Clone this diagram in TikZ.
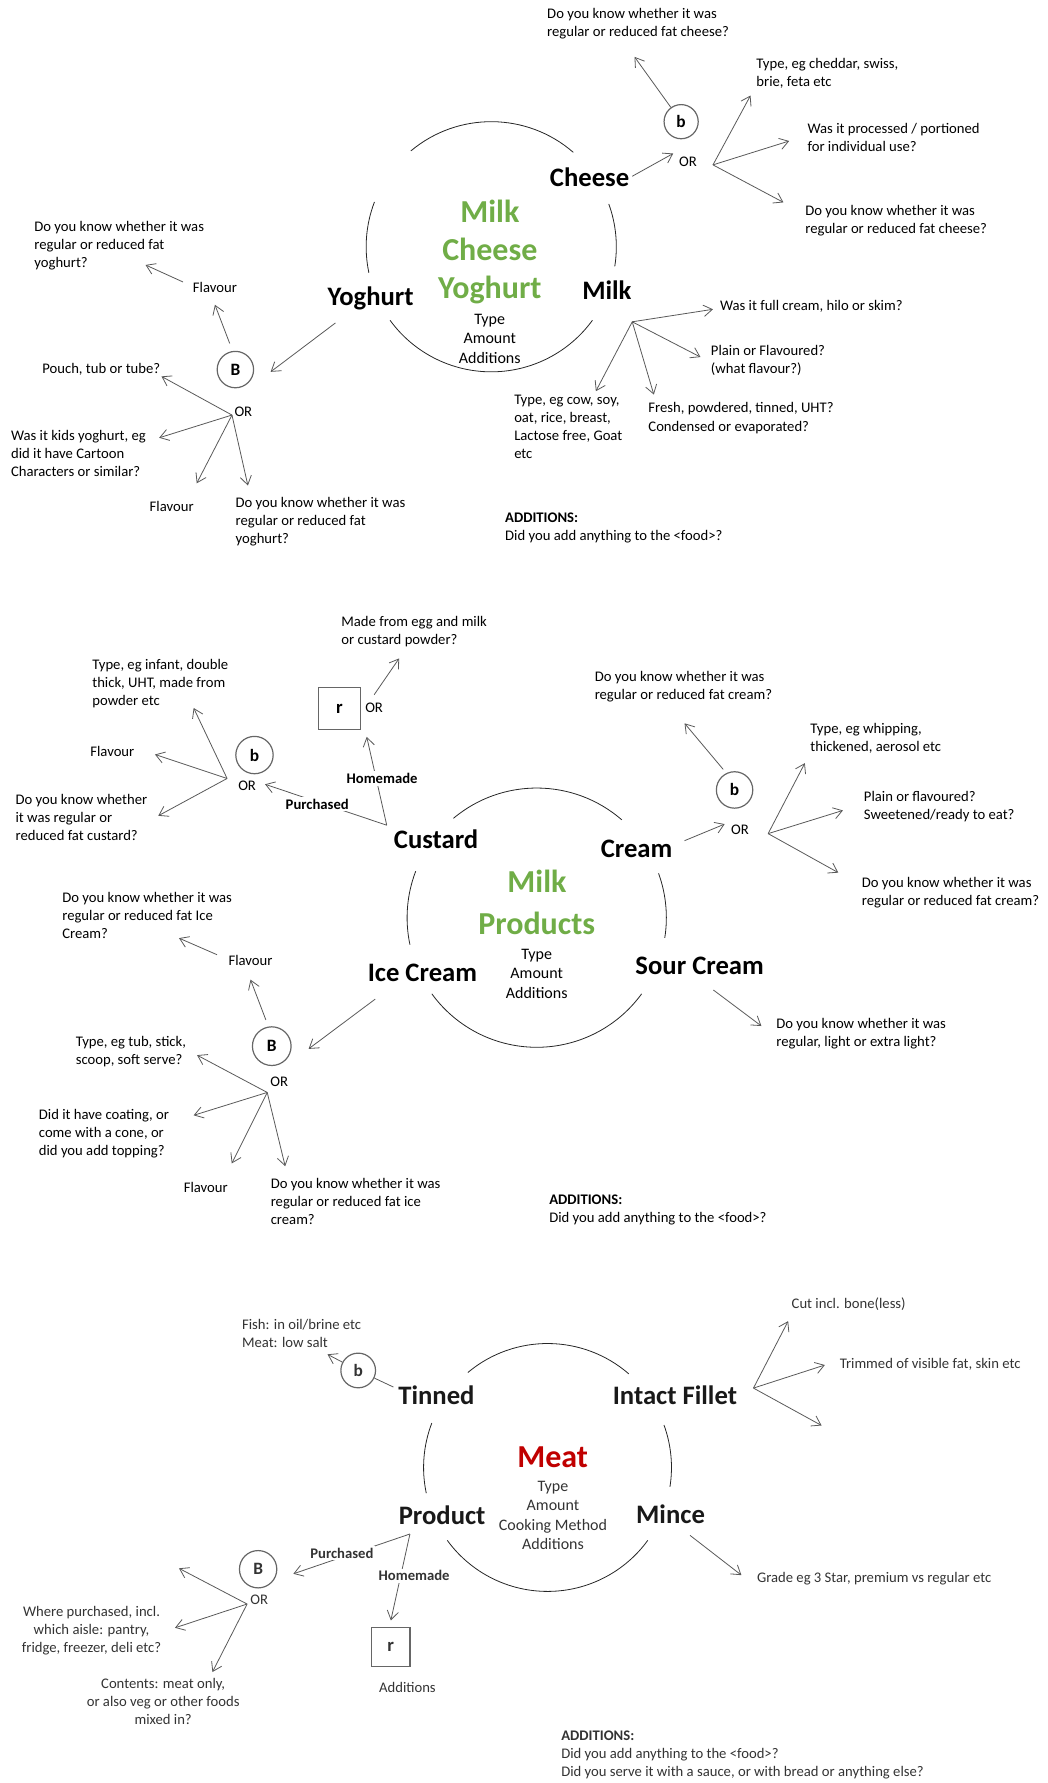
\documentclass[tikz,border=0pt]{standalone}
\usepackage{fontspec}
\setmainfont{Carlito}
\usetikzlibrary{arrows.meta}
\definecolor{hubgreen}{RGB}{112,173,71}
\definecolor{hubred}{RGB}{192,0,0}

\tikzset{
  q/.style={font=\fontsize{11}{13.5}\selectfont, align=left, anchor=north west, inner sep=0pt},
  qc/.style={font=\fontsize{11}{13.5}\selectfont, align=center, inner sep=0pt},
  cat/.style={font=\bfseries\fontsize{20}{24}\selectfont, inner sep=0pt},
  hub/.style={font=\bfseries\fontsize{24}{28.6}\selectfont, inner sep=0pt},
  facets/.style={font=\fontsize{12}{14.6}\selectfont, align=center, inner sep=0pt},
  route/.style={font=\bfseries\fontsize{11}{13}\selectfont, fill=white, inner sep=1.5pt},
  ortext/.style={font=\fontsize{11}{13}\selectfont, inner sep=0pt},
  badge/.style={circle, draw=black!60, line width=0.9pt, inner sep=0pt, minimum size=#1,
    font=\bfseries\fontsize{13}{15}\selectfont},
  recipe/.style={rectangle, draw=black!60, line width=0.9pt, inner sep=0pt, minimum size=#1,
    font=\bfseries\fontsize{14}{16}\selectfont},
  arr/.style={draw=black!65, line width=0.6pt, -{Straight Barb[length=6.5pt,width=8.5pt]}},
  link/.style={draw=black!65, line width=0.6pt},
  ring/.style={draw=black!85, line width=0.6pt},
}

% four arcs of a ring, leaving gaps for the category labels
\newcommand\ringarcs[2]{%
  \draw[ring] (#1) ++(-49:#2)  arc[start angle=-49,  end angle=-130, radius=#2];
  \draw[ring] (#1) ++(-159:#2) arc[start angle=-159, end angle=-192, radius=#2];
  \draw[ring] (#1) ++(-216:#2) arc[start angle=-216, end angle=-324, radius=#2];
  \draw[ring] (#1) ++(9:#2)    arc[start angle=9,    end angle=-20,  radius=#2];
}

\begin{document}
\begin{tikzpicture}[x=0.8526pt, y=-0.8526pt]
\useasboundingbox (0,0) rectangle (921,1568);

% ================= Milk / Cheese / Yoghurt =================
\coordinate (r1) at (432,217);
\ringarcs{r1}{110}
\node[hub, text=hubgreen] (s1milk) at (430.8,185.8) {Milk};
\node[hub, text=hubgreen] (s1cheese) at (430.8,219.5) {Cheese};
\node[hub, text=hubgreen] (s1yog) at (430.8,255) {Yoghurt};
\node[facets] (s1facets) at (430.7,298) {Type\\Amount\\Additions};

\node[cat] (cheese) at (518.5,156) {Cheese};
\node[cat] (yoghurt) at (325.9,262.8) {Yoghurt};
\node[cat] (milk) at (533.7,255) {Milk};

\node[badge=25.6pt] (s1b) at (599,107) {b};
\node[ortext] (s1bor) at (605,142) {OR};
\node[badge=27.3pt] (s1B) at (207,325) {B};
\node[ortext] (s1Bor) at (214,362) {OR};

\node[q] (t1) at (481,7) {Do you know whether it was\\regular or reduced fat cheese?};
\node[q] (t2) at (665,51) {Type, eg cheddar, swiss,\\brie, feta etc};
\node[q] (t3) at (710,108) {Was it processed / portioned\\for individual use?};
\node[q] (t4) at (708,180) {Do you know whether it was\\regular or reduced fat cheese?};
\node[q] (t5) at (30,194) {Do you know whether it was\\regular or reduced fat\\yoghurt?};
\node[qc] (t6) at (189,253) {Flavour};
\node[q] (t7) at (37,319) {Pouch, tub or tube?};
\node[q] (t8) at (9.5,378) {Was it kids yoghurt, eg\\did it have Cartoon\\Characters or similar?};
\node[qc] (t9) at (151,445) {Flavour};
\node[q] (t10) at (207,437) {Do you know whether it was\\regular or reduced fat\\yoghurt?};
\node[q] (t11) at (633,264) {Was it full cream, hilo or skim?};
\node[q] (t12) at (625,303) {Plain or Flavoured?\\(what flavour?)};
\node[q] (t13) at (570,354) {Fresh, powdered, tinned, UHT?\\Condensed or evaporated?};
\node[q] (t14) at (452,347) {Type, eg cow, soy,\\oat, rice, breast,\\Lactose free, Goat\\etc};
\node[q] (t15) at (444,451) {\textbf{ADDITIONS:}\\Did you add anything to the <food>?};

% cheese branch
\coordinate (cheeseout) at (556,155);
\coordinate (cheesetip) at (592,135);
\draw[arr] (cheeseout) -- (cheesetip);
\coordinate (s1bq) at (558,50);
\draw[arr] (s1b) -- (s1bq);
\coordinate (f1) at (627,145);
\coordinate (f1a) at (660,84);
\coordinate (f1b) at (694,124);
\coordinate (f1c) at (689,178);
\draw[arr] (f1) -- (f1a);
\draw[arr] (f1) -- (f1b);
\draw[arr] (f1) -- (f1c);
% yoghurt branch
\coordinate (yogout) at (295,284);
\coordinate (yogtip) at (238,327);
\draw[arr] (yogout) -- (yogtip);
\coordinate (s1Bup) at (202,302);
\coordinate (s1Bflav) at (189,268);
\draw[arr] (s1Bup) -- (s1Bflav);
\coordinate (t6out) at (161,248);
\coordinate (t6tip) at (128,233);
\draw[arr] (t6out) -- (t6tip);
\coordinate (f2) at (204,365);
\coordinate (f2a) at (142,331);
\coordinate (f2b) at (140,385);
\coordinate (f2c) at (173,425);
\coordinate (f2d) at (218,427);
\draw[arr] (f2) -- (f2a);
\draw[arr] (f2) -- (f2b);
\draw[arr] (f2) -- (f2c);
\draw[arr] (f2) -- (f2d);
% milk branch
\coordinate (f3) at (556,283);
\coordinate (f3a) at (627,272);
\coordinate (f3b) at (616,314);
\coordinate (f3c) at (575,347);
\coordinate (f3d) at (524,344);
\draw[arr] (f3) -- (f3a);
\draw[arr] (f3) -- (f3b);
\draw[arr] (f3) -- (f3c);
\draw[arr] (f3) -- (f3d);

% ================= Milk Products =================
\coordinate (r2) at (472,807);
\ringarcs{r2}{114}
\node[hub, text=hubgreen] (s2milk) at (472.2,774.9) {Milk};
\node[hub, text=hubgreen] (s2prod) at (472,811.7) {Products};
\node[facets] (s2facets) at (472,856.3) {Type\\Amount\\Additions};

\node[cat] (custard) at (383.5,737.7) {Custard};
\node[cat] (cream) at (559.8,746.6) {Cream};
\node[cat] (icecream) at (371.5,855.8) {Ice Cream};
\node[cat] (sourcream) at (615.3,849.6) {Sour Cream};

\node[recipe=31pt] (s2r) at (298.6,623) {r};
\node[ortext] (s2ror) at (329,622) {OR};
\node[badge=28pt] (s2b) at (223.8,664) {b};
\node[ortext] (s2bor) at (217.3,690.8) {OR};
\node[badge=27.3pt] (s2c) at (646,694.7) {b};
\node[ortext] (s2cor) at (650.8,729.5) {OR};
\node[badge=29pt] (s2B) at (239,920) {B};
\node[ortext] (s2Bor) at (245.5,951) {OR};

\node[q] (u1) at (300,542) {Made from egg and milk\\or custard powder?};
\node[q] (u2) at (81,580) {Type, eg infant, double\\thick, UHT, made from\\powder etc};
\node[qc] (u3) at (98.8,661) {Flavour};
\node[q] (u4) at (13.5,698.7) {Do you know whether\\it was regular or\\reduced fat custard?};
\node[q] (u5) at (522.8,590.4) {Do you know whether it was\\regular or reduced fat cream?};
\node[q] (u6) at (712.5,636) {Type, eg whipping,\\thickened, aerosol etc};
\node[q] (u7) at (759.5,695.8) {Plain or flavoured?\\Sweetened/ready to eat?};
\node[q] (u8) at (757.7,771) {Do you know whether it was\\regular or reduced fat cream?};
\node[q] (u9) at (682.5,895) {Do you know whether it was\\regular, light or extra light?};
\node[q] (u10) at (54.6,784.4) {Do you know whether it was\\regular or reduced fat Ice\\Cream?};
\node[qc] (u11) at (220.3,844.4) {Flavour};
\node[q] (u12) at (66.4,911) {Type, eg tub, stick,\\scoop, soft serve?};
\node[q] (u13) at (34,975) {Did it have coating, or\\come with a cone, or\\did you add topping?};
\node[qc] (u14) at (181,1044) {Flavour};
\node[q] (u15) at (237.9,1036) {Do you know whether it was\\regular or reduced fat ice\\cream?};
\node[q] (u16) at (482.8,1050.6) {\textbf{ADDITIONS:}\\Did you add anything to the <food>?};

% custard branches
\coordinate (custout) at (340.1,725.7);
\coordinate (custhome) at (322.5,648);
\coordinate (custbuy) at (233.1,689.7);
\draw[arr] (custout) -- (custhome);
\draw[arr] (custout) -- (custbuy);
\node[route] (s2home) at (336,684.6) {Homemade};
\node[route] (s2buy) at (279,707.2) {Purchased};
\coordinate (s2rout) at (329,611);
\coordinate (s2rtip) at (351,579);
\draw[arr] (s2rout) -- (s2rtip);
\coordinate (f4) at (199.7,684.6);
\coordinate (f4a) at (170.3,622.6);
\coordinate (f4b) at (136.3,663.5);
\coordinate (f4c) at (139.2,717.4);
\draw[arr] (f4) -- (f4a);
\draw[arr] (f4) -- (f4b);
\draw[arr] (f4) -- (f4c);
% cream branches
\coordinate (creamout) at (602,739.3);
\coordinate (creamtip) at (637.3,724.7);
\draw[arr] (creamout) -- (creamtip);
\coordinate (s2cup) at (636,676.6);
\coordinate (s2ctip) at (602,636.1);
\draw[arr] (s2cup) -- (s2ctip);
\coordinate (f5) at (675.5,733.1);
\coordinate (f5a) at (707.8,671.1);
\coordinate (f5b) at (741.3,712.7);
\coordinate (f5c) at (737.2,767.4);
\draw[arr] (f5) -- (f5a);
\draw[arr] (f5) -- (f5b);
\draw[arr] (f5) -- (f5c);
% sour cream branch
\coordinate (sourout) at (627.3,870.6);
\coordinate (sourtip) at (669.6,902.3);
\draw[arr] (sourout) -- (sourtip);
% ice cream branches
\coordinate (iceout) at (330,878.6);
\coordinate (icetip) at (271.4,922.4);
\draw[arr] (iceout) -- (icetip);
\coordinate (s2Bup) at (233.8,896.9);
\coordinate (s2Bflav) at (220.3,861.5);
\draw[arr] (s2Bup) -- (s2Bflav);
\coordinate (u11out) at (190.9,839.6);
\coordinate (u11tip) at (157.4,825);
\draw[arr] (u11out) -- (u11tip);
\coordinate (f6) at (235,960.7);
\coordinate (f6a) at (173.3,927.9);
\coordinate (f6b) at (170.3,980.8);
\coordinate (f6c) at (203.8,1023.1);
\coordinate (f6d) at (250.8,1025.6);
\draw[arr] (f6) -- (f6a);
\draw[arr] (f6) -- (f6b);
\draw[arr] (f6) -- (f6c);
\draw[arr] (f6) -- (f6d);

% ================= Meat =================
\begin{scope}[text=black!80]
\coordinate (r3) at (481.5,1290.5);
\ringarcs{r3}{109}
\node[hub, text=hubred] (s3meat) at (486,1281.3) {Meat};
\node[facets] (s3facets) at (486.3,1332.5) {Type\\Amount\\Cooking Method\\Additions};

\node[cat, text=black!90] (tinned) at (383.8,1226.7) {Tinned};
\node[cat, text=black!90] (fillet) at (593.5,1226.7) {Intact Fillet};
\node[cat, text=black!90] (product) at (388.8,1332.1) {Product};
\node[cat, text=black!90] (mince) at (589.7,1331.4) {Mince};

\node[badge=26pt] (s3b) at (315,1205.2) {b};
\node[badge=28pt] (s3B) at (227,1380) {B};
\node[ortext] (s3Bor) at (227.9,1406.7) {OR};
\node[recipe=29pt] (s3r) at (343.6,1448.4) {r};

\node[q] (v1) at (212.6,1160) {Fish: in oil/brine etc\\Meat: low salt};
\node[q] (v2) at (696,1141.4) {Cut incl. bone(less)};
\node[q] (v3) at (738.3,1194.4) {Trimmed of visible fat, skin etc};
\node[q] (v4) at (665.5,1382.1) {Grade eg 3 Star, premium vs regular etc};
\node[qc, anchor=north] (v5) at (80.5,1412) {Where purchased, incl.\\which aisle: pantry,\\fridge, freezer, deli etc?};
\node[qc, anchor=north] (v6) at (143.5,1475.4) {Contents: meat only,\\or also veg or other foods\\mixed in?};
\node[qc] (v7) at (358.3,1484.4) {Additions};
\node[q] (v8) at (493.4,1522.1) {\textbf{ADDITIONS:}\\Did you add anything to the <food>?\\Did you serve it with a sauce, or with bread or anything else?};

% tinned branch
\coordinate (tinout) at (346,1219.8);
\draw[link] (tinout) -- (s3b);
\coordinate (s3btip) at (288,1191);
\draw[arr] (s3b) -- (s3btip);
% fillet branches
\coordinate (f7) at (662.6,1220.7);
\coordinate (f7a) at (693.1,1161.8);
\coordinate (f7b) at (725.4,1200.4);
\coordinate (f7c) at (722.5,1253.6);
\draw[arr] (f7) -- (f7a);
\draw[arr] (f7) -- (f7b);
\draw[arr] (f7) -- (f7c);
% mince branch
\coordinate (minceout) at (606.8,1350.2);
\coordinate (mincetip) at (652,1385.2);
\draw[arr] (minceout) -- (mincetip);
% product branches
\coordinate (prodout) at (360.5,1349);
\coordinate (prodbuy) at (258,1384);
\coordinate (prodhome) at (343.7,1425);
\draw[arr] (prodout) -- (prodbuy);
\draw[arr] (prodout) -- (prodhome);
\node[route] (s3buy) at (300.7,1365.7) {Purchased};
\node[route] (s3home) at (364.2,1385.8) {Homemade};
\coordinate (f8) at (217.3,1410.6);
\coordinate (f8a) at (157.4,1379.2);
\coordinate (f8b) at (153.9,1431.5);
\coordinate (f8c) at (186.8,1470.4);
\draw[arr] (f8) -- (f8a);
\draw[arr] (f8) -- (f8b);
\draw[arr] (f8) -- (f8c);
\end{scope}

\end{tikzpicture}
\end{document}
